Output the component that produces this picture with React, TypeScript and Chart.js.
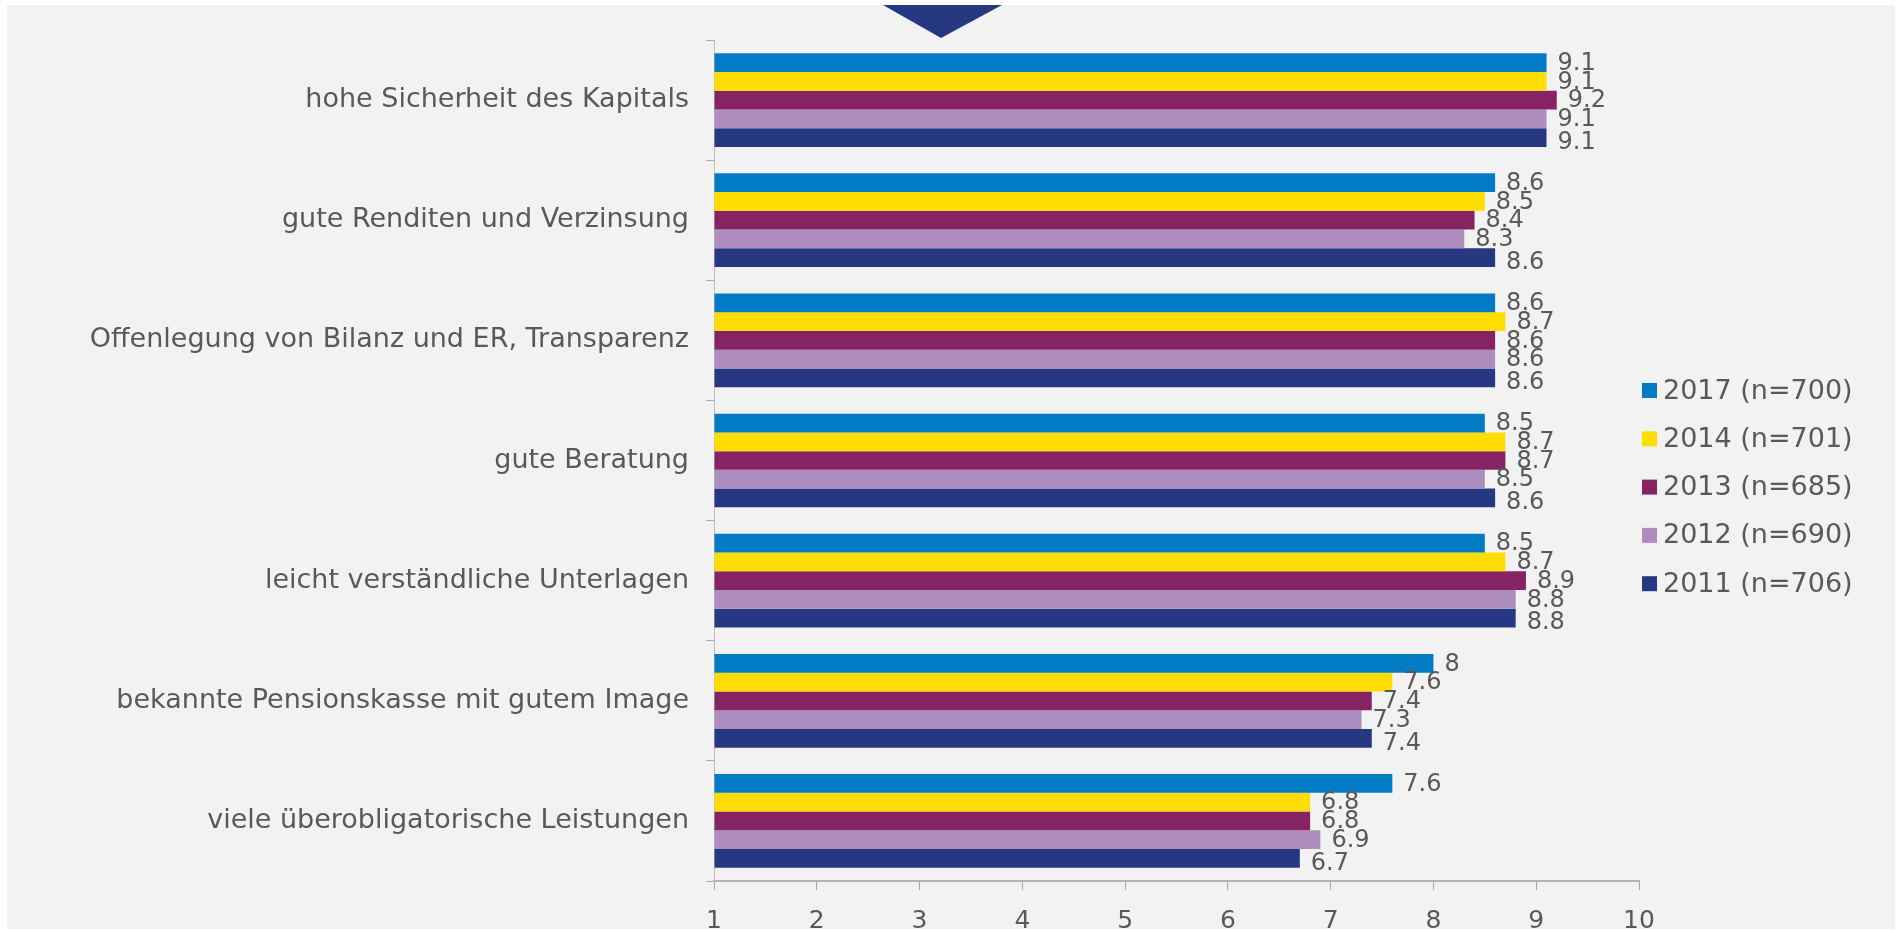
import React, { useEffect, useRef } from "react";
import { Chart, registerables } from "chart.js";
Chart.register(...registerables);

const categories = [
  "hohe Sicherheit des Kapitals",
  "gute Renditen und Verzinsung",
  "Offenlegung von Bilanz und ER, Transparenz",
  "gute Beratung",
  "leicht verständliche Unterlagen",
  "bekannte Pensionskasse mit gutem Image",
  "viele überobligatorische Leistungen",
];
const seriesLabels = ["2017 (n=700)", "2014 (n=701)", "2013 (n=685)", "2012 (n=690)", "2011 (n=706)"];
const values2017 = [9.1, 8.6, 8.6, 8.5, 8.5, 8, 7.6];
const values2014 = [9.1, 8.5, 8.7, 8.7, 8.7, 7.6, 6.8];
const values2013 = [9.2, 8.4, 8.6, 8.7, 8.9, 7.4, 6.8];
const values2012 = [9.1, 8.3, 8.6, 8.5, 8.8, 7.3, 6.9];
const values2011 = [9.1, 8.6, 8.6, 8.6, 8.8, 7.4, 6.7];
const seriesColors = ["#007BC4", "#FFDD00", "#862363", "#AD8CBE", "#253881"];
const xMin = 1;
const xMax = 10;

const FONT = "'DejaVu Sans', Verdana, sans-serif";
const TEXT = "#595959";

const decorPlugin = {
  id: "decor",
  beforeDraw(chart: any) {
    const ctx = chart.ctx;
    ctx.save();
    ctx.fillStyle = "#ffffff";
    ctx.fillRect(0, 0, chart.width, chart.height);
    ctx.fillStyle = "#f2f2f2";
    ctx.fillRect(7, 5, chart.width - 9, chart.height - 6);
    // triangle marker at the top
    ctx.fillStyle = "#253881";
    ctx.beginPath();
    ctx.moveTo(883, 5);
    ctx.lineTo(1002, 5);
    ctx.lineTo(941, 38);
    ctx.closePath();
    ctx.fill();
    ctx.restore();
  },
};

const labelPlugin = {
  id: "valueLabels",
  afterDatasetsDraw(chart: any) {
    const ctx = chart.ctx;
    ctx.save();
    ctx.font = `24px ${FONT}`;
    ctx.fillStyle = TEXT;
    ctx.textAlign = "left";
    ctx.textBaseline = "middle";
    chart.data.datasets.forEach((ds: any, di: number) => {
      const meta = chart.getDatasetMeta(di);
      meta.data.forEach((bar: any, i: number) => {
        const v = ds.data[i];
        ctx.fillText(String(v), bar.x + 11, bar.y + 1 + (di === 4 ? 4 : 0));
      });
    });
    ctx.restore();
  },
};

const legendPlugin = {
  id: "sideLegend",
  afterDraw(chart: any) {
    const ctx = chart.ctx;
    const area = chart.chartArea;
    ctx.save();
    ctx.font = `27px ${FONT}`;
    ctx.textAlign = "left";
    ctx.textBaseline = "middle";
    const step = 48.3;
    const x0 = area.right + 3;
    const y0 = 390.5;
    chart.data.datasets.forEach((ds: any, i: number) => {
      const y = y0 + i * step;
      ctx.fillStyle = ds.backgroundColor;
      ctx.fillRect(x0, y - 7.5, 15, 15);
      ctx.fillStyle = TEXT;
      ctx.fillText(ds.label, x0 + 21, y + 1);
    });
    ctx.restore();
  },
};

export default function App() {
  const ref = useRef<HTMLCanvasElement>(null);
  useEffect(() => {
    if (!ref.current) return;
    const seriesValues = [values2017, values2014, values2013, values2012, values2011];
    const chart = new Chart(ref.current, {
      type: "bar",
      data: {
        labels: categories,
        datasets: seriesLabels.map((label, i) => ({
          label,
          data: seriesValues[i],
          backgroundColor: seriesColors[i],
          borderWidth: 0,
          categoryPercentage: 0.78,
          barPercentage: 1,
          base: xMin,
        })),
      },
      options: {
        indexAxis: "y",
        responsive: false,
        animation: false,
        layout: { padding: { left: 0, right: 258, top: 40, bottom: 0 } },
        plugins: { legend: { display: false }, tooltip: { enabled: false } },
        scales: {
          x: {
            type: "linear",
            min: xMin,
            max: xMax,
            ticks: { stepSize: 1, color: TEXT, font: { family: FONT, size: 25 }, padding: 16, maxRotation: 0 },
            grid: { drawOnChartArea: false, drawTicks: true, tickLength: 9, color: "#a6a6a6", lineWidth: 1 },
            border: { color: "#b3b3b3", width: 2 },
            afterFit: (s: any) => { s.height = 49; },
          },
          y: {
            type: "category",
            ticks: { color: TEXT, font: { family: FONT, size: 27 }, padding: 17, autoSkip: false },
            grid: { offset: true, drawOnChartArea: false, drawTicks: true, tickLength: 8, color: "#a6a6a6" },
            border: { color: "#bfbfbf", width: 1 },
            afterFit: (s: any) => { s.width = 714; },
          },
        },
      } as any,
      plugins: [decorPlugin, labelPlugin, legendPlugin],
    });
    return () => chart.destroy();
  }, []);
  return (
    <div style={{ position: "fixed", left: 0, top: 0, width: 1897, height: 930, background: "#fff" }}>
      <canvas ref={ref} width={1897} height={930} style={{ display: "block" }} />
    </div>
  );
}
